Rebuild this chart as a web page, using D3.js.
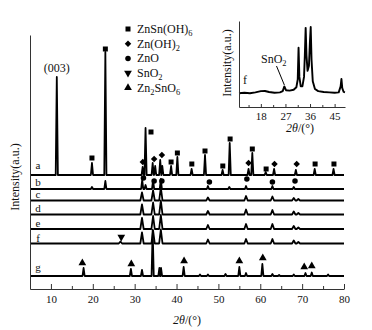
<!DOCTYPE html>
<html>
<head>
<meta charset="utf-8">
<script src="https://cdn.jsdelivr.net/npm/d3@7"></script>
<style>
  body { margin: 0; background: #fff; }
  text { font-family: "Liberation Serif", "Times New Roman", serif; fill: #111; }
</style>
</head>
<body>
<div id="cont"></div>
<script>
// XRD patterns a-g (2theta in degrees, intensity in arbitrary units)

var traceLabels = ["a", "b", "c", "d", "e", "f", "g"];
var traceOffsets = [114, 100, 88.5, 74.5, 60, 45.5, 13];

var peaksA = [[11.4, 98], [19.8, 12], [23.0, 123], [31.9, 8], [32.6, 47], [34.3, 12], [34.9, 9],
              [36.1, 15], [36.6, 9], [38.7, 9], [40.2, 18], [43.6, 6], [46.8, 20], [51.0, 5],
              [52.7, 32], [57.2, 6], [58.1, 22], [61.3, 3], [63.3, 6], [68.5, 5], [73.0, 6], [77.5, 6]];
var peaksB = [[19.8, 2], [23.0, 8], [31.8, 9], [32.6, 4], [34.4, 9], [36.25, 10],
              [47.5, 3], [52.6, 2], [56.6, 3], [62.9, 3], [68.0, 2]];
var peaksC = [[31.75, 8], [34.4, 10], [36.25, 13], [47.5, 3], [56.6, 4.5], [62.9, 4], [68.0, 2.5], [69.1, 1.5]];
var peaksD = [[31.75, 10], [34.4, 12], [36.25, 14], [47.5, 3.5], [56.6, 5], [62.9, 4.5], [68.0, 3], [69.1, 1.5]];
var peaksE = [[31.75, 11], [34.4, 13], [36.25, 14], [47.5, 4], [56.6, 5], [62.9, 5], [68.0, 3], [69.1, 1.5]];
var peaksF = [[26.6, 2], [31.75, 11], [34.4, 13], [36.25, 14], [47.5, 4], [56.6, 4.5], [62.9, 4.5], [68.0, 3], [69.1, 1.5]];
var peaksG = [[17.8, 8], [29.1, 7], [31.75, 6], [34.3, 46], [35.9, 8], [36.3, 8], [41.7, 9], [45.6, 1.5],
              [47.5, 1.5], [51.7, 2], [55.0, 9], [56.6, 3], [60.5, 12], [62.9, 2], [64.5, 1],
              [68.0, 1.5], [70.8, 3], [72.3, 3.5], [76.2, 1.5]];
var tracePeaks = [peaksA, peaksB, peaksC, peaksD, peaksE, peaksF, peaksG];

// phase markers [2theta, intensity]
var markSquare = [[19.8, 131], [23.0, 240], [33.9, 157], [38.7, 127], [40.2, 136], [43.65, 125],
                  [46.8, 138], [51.05, 123], [52.8, 150], [58.1, 140], [61.4, 120], [73.1, 125], [77.6, 125]];
var markDiamond = [[31.95, 127], [34.65, 130], [36.5, 134], [57.2, 126], [63.4, 125], [68.7, 125]];
var markCircle = [[32.1, 111], [34.65, 108], [36.5, 108], [47.85, 107], [56.8, 110], [62.9, 107], [68.3, 108]];
var markDown = [[26.8, 52]];
var markUp = [[17.5, 26], [29.2, 25], [41.8, 28], [55.0, 28], [60.6, 31], [70.5, 22], [72.3, 23]];

var legendNames = ["ZnSn(OH)_6", "Zn(OH)_2", "ZnO", "SnO_2", "Zn_2SnO_6"];
var legendTypes = ["square", "diamond", "circle", "down", "up"];

var xTicks = [10, 20, 30, 40, 50, 60, 70, 80];
var xMinor = [15, 25, 35, 45, 55, 65, 75];

// inset: pattern f, 10-49 degrees
var insetPts = [[10, 16], [12, 16.5], [14, 16], [16, 17], [18, 18.5], [19.5, 18.6], [21, 17.5], [23, 16.5],
                [25, 17], [26, 18.5], [26.6, 24], [27.2, 19.5], [28.5, 19], [30, 20], [31, 23], [31.5, 32],
                [31.8, 69], [32.1, 35], [32.6, 24], [33.2, 24], [33.8, 35], [34.1, 60], [34.4, 92],
                [34.7, 60], [35.1, 42], [35.6, 48], [35.95, 75], [36.25, 93], [36.55, 55], [37, 30],
                [37.8, 21], [39, 18.5], [41, 17.5], [43, 17], [45, 16.5], [46.5, 17], [47.2, 24],
                [47.5, 32.6], [47.8, 22], [48.3, 17.5], [48.8, 17]];
var insetTicks = [18, 27, 36, 45];
var insetMinor = [13.5, 22.5, 31.5, 40.5];

// SVG container
var svg = d3.select("#cont").append("svg")
    .attr("width", 372)
    .attr("height", 330);

var x = d3.scaleLinear().domain([5, 80]).range([30, 344]);
var y = d3.scaleLinear().domain([0, 254]).range([289, 35]);

var line = d3.line()
    .x(function(d) { return x(d[0]); })
    .y(function(d) { return y(d[1]); });

// spikes on a flat baseline
var spikePoints = function(peaks, base, w) {
    var pts = [[5, base]];
    peaks.forEach(function(p) {
        pts.push([p[0] - w, base], [p[0], base + p[1]], [p[0] + w, base]);
    });
    pts.push([80, base]);
    return pts;
};

var letterShift = [6.5, 3.5, 2.5, 3, 2, 2, 5];

tracePeaks.forEach(function(peaks, i) {
    var w = (i >= 2 && i <= 5) ? 0.4 : 0.26;
    svg.append("path")
        .attr("d", line(spikePoints(peaks, traceOffsets[i], w)))
        .attr("fill", "none")
        .attr("stroke", "#000")
        .attr("stroke-width", 1.8)
        .attr("stroke-linejoin", "round");
    svg.append("text")
        .attr("x", 38)
        .attr("y", y(traceOffsets[i]) - letterShift[i])
        .attr("text-anchor", "middle")
        .attr("font-size", 11)
        .text(traceLabels[i]);
});

// axes
svg.append("g")
    .attr("transform", "translate(30,0)")
    .call(d3.axisLeft(y).tickValues([]).tickSizeOuter(0));

svg.append("g")
    .attr("transform", "translate(0,289)")
    .call(d3.axisBottom(x).tickValues(xTicks).tickSize(-5).tickSizeOuter(0).tickPadding(6))
    .call(function(g) { g.selectAll("text").attr("font-size", 11).attr("font-family", "Liberation Serif").attr("fill", "#111"); });

svg.append("g")
    .attr("transform", "translate(0,289)")
    .call(d3.axisBottom(x).tickValues(xMinor).tickSize(-3).tickFormat(""))
    .call(function(g) { g.select(".domain").remove(); });

svg.selectAll(".domain, .tick line").attr("stroke", "#333");

// markers
var sym = {
    square: d3.symbol().type(d3.symbolSquare).size(25)(),
    diamond: d3.symbol().type(d3.symbolSquare).size(21)(),
    circle: d3.symbol().type(d3.symbolCircle).size(24)(),
    down: d3.symbol().type(d3.symbolTriangle).size(26)(),
    up: d3.symbol().type(d3.symbolTriangle).size(26)()
};
var rot = { square: 0, diamond: 45, circle: 0, down: 180, up: 0 };

var drawMarks = function(data, type) {
    svg.selectAll(null).data(data).enter().append("path")
        .attr("d", sym[type])
        .attr("transform", function(d) {
            return "translate(" + x(d[0]) + "," + y(d[1]) + ") rotate(" + rot[type] + ")";
        })
        .attr("fill", "#000");
};
drawMarks(markSquare, "square");
drawMarks(markDiamond, "diamond");
drawMarks(markCircle, "circle");
drawMarks(markDown, "down");
drawMarks(markUp, "up");

// text with _X subscripts
var chemText = function(sel, s, size) {
    var shift = 0;
    s.split(/(_\d)/).forEach(function(part) {
        if (!part) return;
        if (part[0] === "_") {
            sel.append("tspan").attr("font-size", size * 0.7).attr("dy", 3).text(part.slice(1));
            shift = -3;
        } else {
            sel.append("tspan").attr("dy", shift).text(part);
            shift = 0;
        }
    });
};

// legend
legendNames.forEach(function(name, i) {
    var ly = 29 + i * 14.7;
    var t = legendTypes[i];
    svg.append("path")
        .attr("d", sym[t])
        .attr("transform", "translate(128," + ly + ") rotate(" + rot[t] + ")")
        .attr("fill", "#000");
    var tx = svg.append("text")
        .attr("x", 137)
        .attr("y", ly + 4)
        .attr("font-size", 12);
    chemText(tx, name, 12);
});

svg.append("text")
    .attr("x", x(11.4)).attr("y", 72)
    .attr("text-anchor", "middle")
    .attr("font-size", 12)
    .text("(003)");

// axis titles
var xt = svg.append("text")
    .attr("x", 187).attr("y", 324)
    .attr("text-anchor", "middle")
    .attr("font-size", 12);
xt.append("tspan").attr("font-style", "italic").text("2\u03b8");
xt.append("tspan").text("/(\u00b0)");

svg.append("text")
    .attr("transform", "translate(19,177) rotate(-90)")
    .attr("text-anchor", "middle")
    .attr("font-size", 12)
    .text("Intensity(a.u.)");

// inset
var xi = d3.scaleLinear().domain([10, 48.8]).range([239, 345]);
var yi = d3.scaleLinear().domain([0, 100]).range([107, 21]);

var lineI = d3.line()
    .x(function(d) { return xi(d[0]); })
    .y(function(d) { return yi(d[1]); });

svg.append("path")
    .attr("d", lineI(insetPts))
    .attr("fill", "none")
    .attr("stroke", "#000")
    .attr("stroke-width", 1.9)
    .attr("stroke-linejoin", "round");

var inset = svg.append("g").attr("class", "inset");
inset.append("g")
    .attr("transform", "translate(239,0)")
    .call(d3.axisLeft(yi).tickValues([]).tickSizeOuter(0));
inset.append("g")
    .attr("transform", "translate(0,107)")
    .call(d3.axisBottom(xi).tickValues(insetTicks).tickSize(-3).tickSizeOuter(0).tickPadding(5.5))
    .call(function(g) { g.selectAll("text").attr("font-size", 11).attr("font-family", "Liberation Serif").attr("fill", "#111"); });
inset.append("g")
    .attr("transform", "translate(0,107)")
    .call(d3.axisBottom(xi).tickValues(insetMinor).tickSize(-2).tickFormat(""))
    .call(function(g) { g.select(".domain").remove(); });
inset.selectAll(".domain, .tick line").attr("stroke", "#333");

inset.append("text")
    .attr("transform", "translate(231,63) rotate(-90)")
    .attr("text-anchor", "middle")
    .attr("font-size", 12)
    .text("Intensity(a.u.)");

var xti = inset.append("text")
    .attr("x", 300).attr("y", 132)
    .attr("text-anchor", "middle")
    .attr("font-size", 12);
xti.append("tspan").attr("font-style", "italic").text("2\u03b8");
xti.append("tspan").text("/(\u00b0)");

inset.append("text")
    .attr("x", 245).attr("y", 83.5)
    .attr("text-anchor", "middle")
    .attr("font-size", 12)
    .text("f");

var sn = inset.append("text")
    .attr("x", 261).attr("y", 63)
    .attr("font-size", 12);
chemText(sn, "SnO_2", 12);

inset.append("line")
    .attr("x1", 276.5).attr("y1", 66)
    .attr("x2", xi(26.6)).attr("y2", 85)
    .attr("stroke", "#000")
    .attr("stroke-width", 1);
</script>
</body>
</html>
